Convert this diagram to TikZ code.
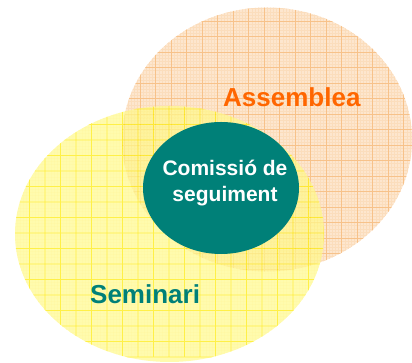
\documentclass[tikz,border=0pt]{standalone}
\usepackage{fontspec}
\setmainfont{Liberation Sans}
\usetikzlibrary{shapes.geometric}
\definecolor{asfill}{HTML}{FDE6CE}
\definecolor{asgrid}{HTML}{F7C28A}
\definecolor{asminor}{HTML}{FBDDBC}
\definecolor{semfill}{HTML}{FFF98E}
\definecolor{semgrid}{HTML}{FFEA00}
\definecolor{semminor}{HTML}{FFF47A}
\definecolor{teal}{HTML}{008078}
\definecolor{orangetxt}{HTML}{FF6600}
\tikzset{
  bigtxt/.style={font=\fontsize{26}{30}\selectfont\bfseries, inner sep=0pt},
  comtxt/.style={font=\fontsize{21}{26}\selectfont\bfseries, text=white, align=center, inner sep=0pt},
}
\begin{document}
\begin{tikzpicture}[x=1pt,y=1pt]
\useasboundingbox (0,0) rectangle (412,363);
% Assemblea
\coordinate (ac) at (267,223.5);
\fill[asfill] (ac) ellipse [x radius=145, y radius=132];
\begin{scope}
  \clip (ac) ellipse [x radius=145, y radius=132];
  \draw[asminor, line width=0.2pt, step=3.1, shift={(0.5,1)}] (100,80) grid (420,363);
  \draw[asgrid, line width=0.7pt, step=15.5, shift={(0.5,1)}] (100,80) grid (420,363);
\end{scope}
% Seminari
\coordinate (sc) at (169.5,129);
\begin{scope}[transparency group, opacity=0.72]
  \fill[semfill] (sc) ellipse [x radius=154.5, y radius=128];
  \clip (sc) ellipse [x radius=154.5, y radius=128];
  \draw[semminor, line width=0.2pt, step=3.1, shift={(14,6)}] (0,0) grid (330,270);
  \draw[semgrid, line width=0.8pt, step=15.5, shift={(14,6)}] (0,0) grid (330,270);
\end{scope}
% Comissio
\node[ellipse, fill=teal, minimum width=156, minimum height=132, inner sep=0pt] (com) at (221,175) {};
\node[comtxt] (comt) at (225,180) {Comissió de\\seguiment};
\node[bigtxt, text=orangetxt, anchor=base west] (ass) at (223,256) {Assemblea};
\node[bigtxt, text=teal, anchor=base west] (sem) at (90,59) {Seminari};
\end{tikzpicture}
\end{document}
